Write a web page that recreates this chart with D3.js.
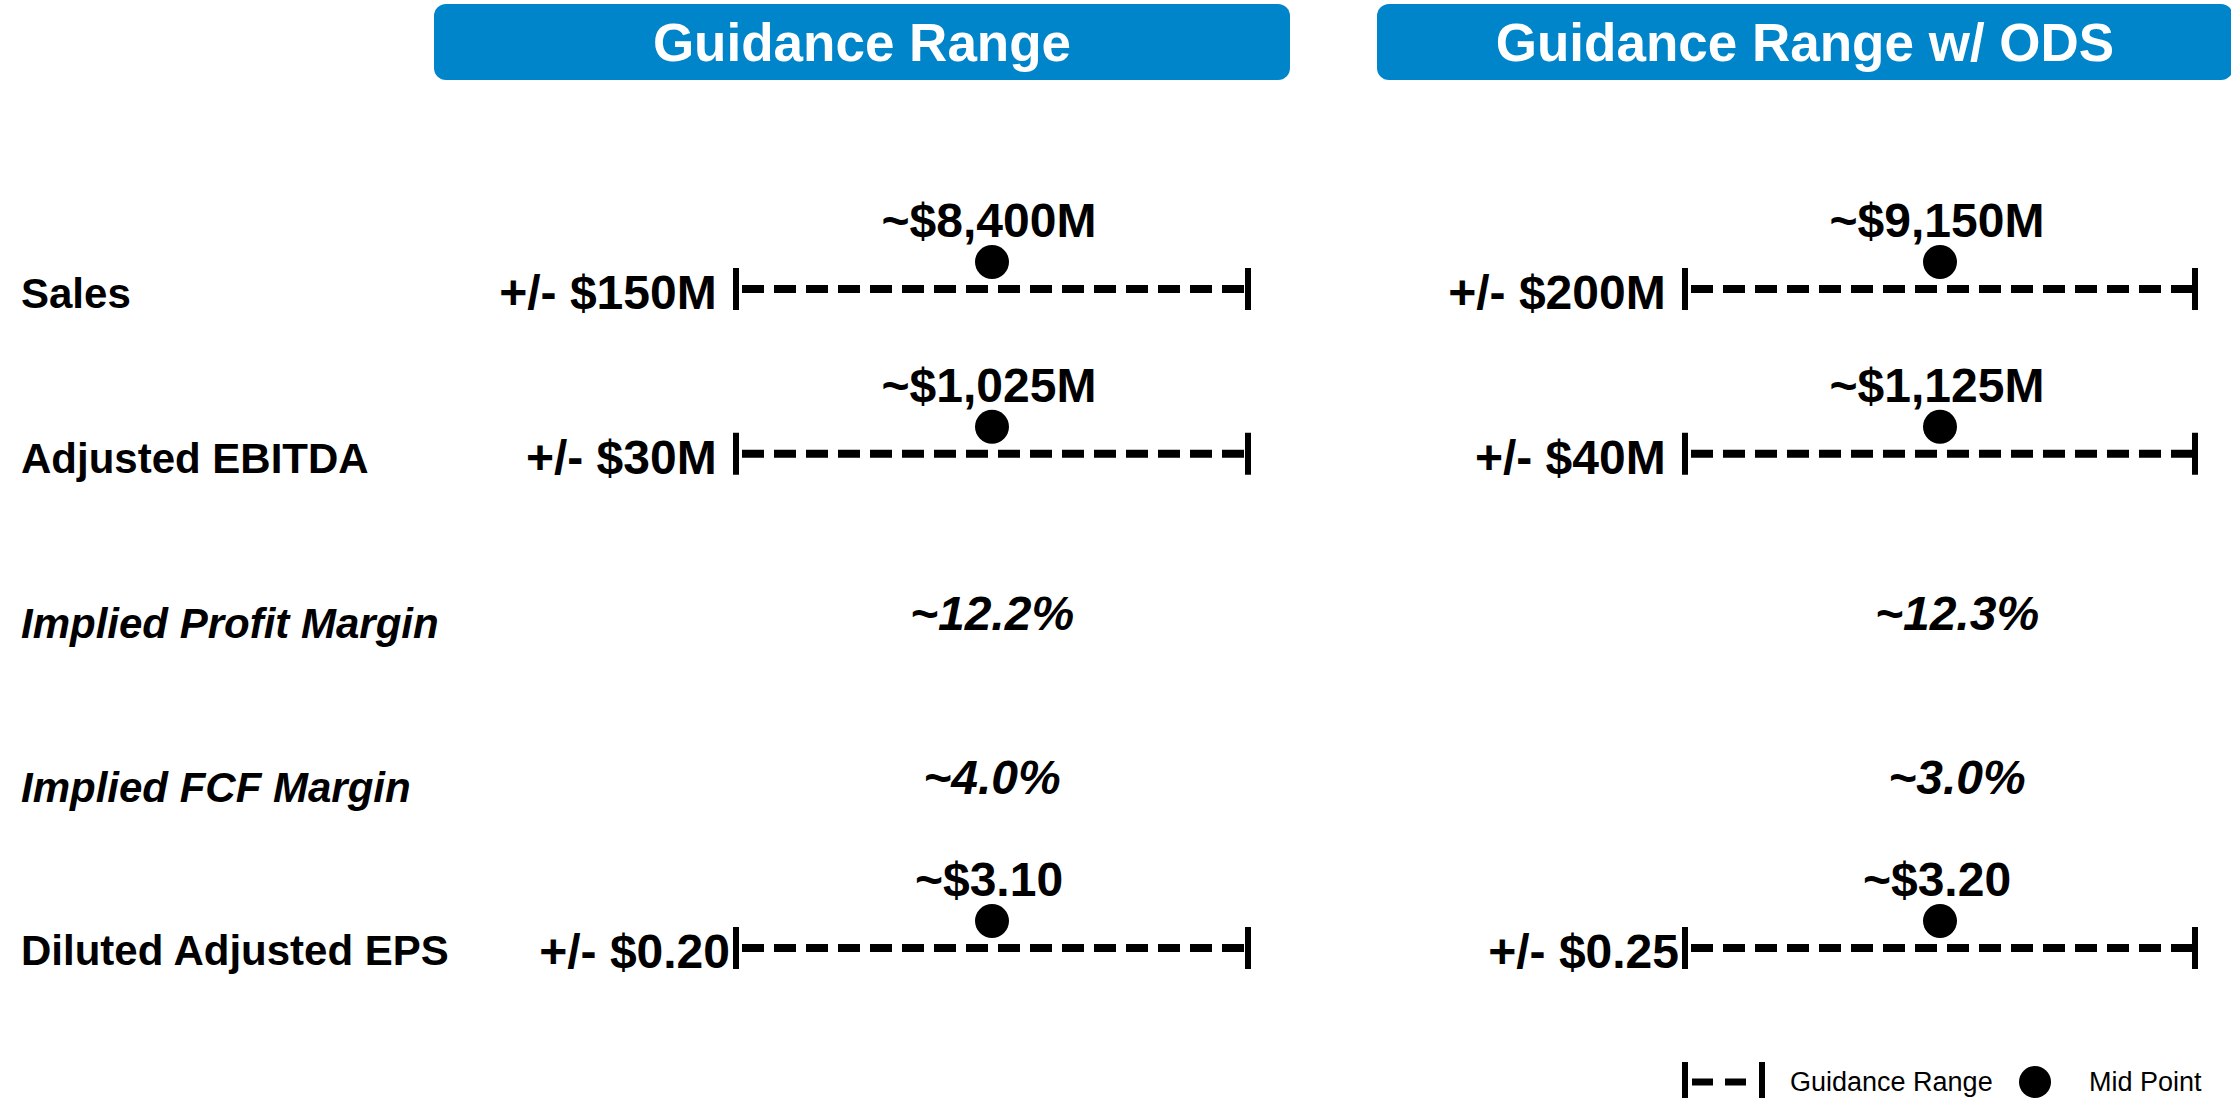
<!DOCTYPE html>
<html>
<head>
<meta charset="utf-8">
<script src="https://cdn.jsdelivr.net/npm/d3@7"></script>
<style>
  html, body { margin: 0; padding: 0; background: #ffffff; }
  svg { display: block; font-family: "Liberation Sans", Arial, Helvetica, sans-serif; }
  text { white-space: pre; }
</style>
</head>
<body>
<svg id="chart"></svg>
<script>
// ---- data ----
const panels = ["Guidance Range", "Guidance Range w/ ODS"];
const metrics = ["Sales", "Adjusted EBITDA", "Implied Profit Margin", "Implied FCF Margin", "Diluted Adjusted EPS"];
const metricUnits = ["$M", "$M", "%", "%", "$"];
const guidanceMid = [8400, 1025, 12.2, 4.0, 3.10];
const guidanceSpread = [150, 30, null, null, 0.20];
const odsMid = [9150, 1125, 12.3, 3.0, 3.20];
const odsSpread = [200, 40, null, null, 0.25];
const legendLabels = ["Guidance Range", "Mid Point"];

const panelMid = [guidanceMid, odsMid];
const panelSpread = [guidanceSpread, odsSpread];

// ---- layout ----
const W = 2231, H = 1098;
const BLUE = "#0085ca";
const headerW = 856, headerH = 76, headerY = 4;
const panelLayout = [
  { headerX: 434, lineX: [736, 1248], marginX: 992 },
  { headerX: 1377, lineX: [1685, 2195], marginX: 1957 }
];
const TICK_HALF = 21, TICK_W = 6, DASH_W = 8;
const DOT_R = 17;

const svg = d3.select("#chart").attr("width", W).attr("height", H);

const rowY = d3.scalePoint().domain(metrics).range([289, 948]);

// number formatting for the midpoint and spread labels
const fmtComma = d3.format(",");
const fmt1 = d3.format(".1f");
const fmt2 = d3.format(".2f");
function midLabel(v, unit) {
  if (unit === "$M") return "~$" + fmtComma(v) + "M";
  if (unit === "%") return "~" + fmt1(v) + "%";
  return "~$" + fmt2(v);
}
function spreadLabel(v, unit) {
  if (unit === "$M") return "+/- $" + fmtComma(v) + "M ";
  return "+/- $" + fmt2(v);
}

// ---- row labels ----
svg.append("g").selectAll("text")
  .data(metrics)
  .join("text")
  .attr("x", 21)
  .attr("y", (d, i) => rowY(d) + (i === metrics.length - 1 ? 17 : 19))
  .attr("font-size", 42)
  .attr("font-weight", "bold")
  .attr("font-style", (d, i) => metricUnits[i] === "%" ? "italic" : "normal")
  .attr("fill", "#000")
  .text(d => d);

// ---- panels ----
panels.forEach((title, p) => {
  const lay = panelLayout[p];
  const g = svg.append("g");

  // header banner
  g.append("rect")
    .attr("x", lay.headerX).attr("y", headerY)
    .attr("width", headerW).attr("height", headerH)
    .attr("rx", 12).attr("ry", 12)
    .attr("fill", BLUE);
  g.append("text")
    .attr("x", lay.headerX + headerW / 2)
    .attr("y", headerY + headerH / 2 + 19)
    .attr("text-anchor", "middle")
    .attr("font-size", 53)
    .attr("font-weight", "bold")
    .attr("fill", "#fff")
    .text(title);

  metrics.forEach((m, i) => {
    const y = rowY(m);
    const unit = metricUnits[i];
    const mid = panelMid[p][i];
    const spread = panelSpread[p][i];

    if (spread == null) {
      // margin rows: value only
      g.append("text")
        .attr("x", lay.marginX)
        .attr("y", y + 11)
        .attr("text-anchor", "middle")
        .attr("font-size", 48)
        .attr("font-weight", "bold")
        .attr("font-style", "italic")
        .text(midLabel(mid, unit));
      return;
    }

    const x = d3.scaleLinear().domain([mid - spread, mid + spread]).range(lay.lineX);
    const lo = x(mid - spread), hi = x(mid + spread);

    // range ticks
    g.selectAll(null)
      .data([mid - spread, mid + spread])
      .join("line")
      .attr("x1", d => x(d)).attr("x2", d => x(d))
      .attr("y1", y - TICK_HALF).attr("y2", y + TICK_HALF)
      .attr("stroke", "#000").attr("stroke-width", TICK_W);

    // dashed range
    g.append("line")
      .attr("x1", lo + 6).attr("x2", hi)
      .attr("y1", y).attr("y2", y)
      .attr("stroke", "#000").attr("stroke-width", DASH_W)
      .attr("stroke-dasharray", "22 10");

    // midpoint
    g.append("circle")
      .attr("cx", x(mid)).attr("cy", y - 27).attr("r", DOT_R)
      .attr("fill", "#000");

    g.append("text")
      .attr("x", x(mid) - 3)
      .attr("y", y - 52)
      .attr("text-anchor", "middle")
      .attr("font-size", 48)
      .attr("font-weight", "bold")
      .text(midLabel(mid, unit));

    // spread label left of the range
    g.append("text")
      .attr("x", lo - 6)
      .attr("y", y + 20)
      .attr("text-anchor", "end")
      .attr("font-size", 48)
      .attr("font-weight", "bold")
      .text(spreadLabel(spread, unit));
  });
});

// ---- legend ----
const lg = svg.append("g");
const legY = 1082;
lg.selectAll(null)
  .data([1685, 1762])
  .join("line")
  .attr("x1", d => d).attr("x2", d => d)
  .attr("y1", legY - 20).attr("y2", legY + 20)
  .attr("stroke", "#000").attr("stroke-width", TICK_W);
lg.append("line")
  .attr("x1", 1692).attr("x2", 1756)
  .attr("y1", legY).attr("y2", legY)
  .attr("stroke", "#000").attr("stroke-width", 7)
  .attr("stroke-dasharray", "21 12");
lg.append("circle")
  .attr("cx", 2035).attr("cy", legY).attr("r", 16)
  .attr("fill", "#000");
lg.selectAll("text.leg")
  .data(legendLabels)
  .join("text")
  .attr("class", "leg")
  .attr("x", (d, i) => i === 0 ? 1790 : 2089)
  .attr("y", 1091)
  .attr("font-size", 27)
  .attr("fill", "#000")
  .text(d => d);
</script>
</body>
</html>
